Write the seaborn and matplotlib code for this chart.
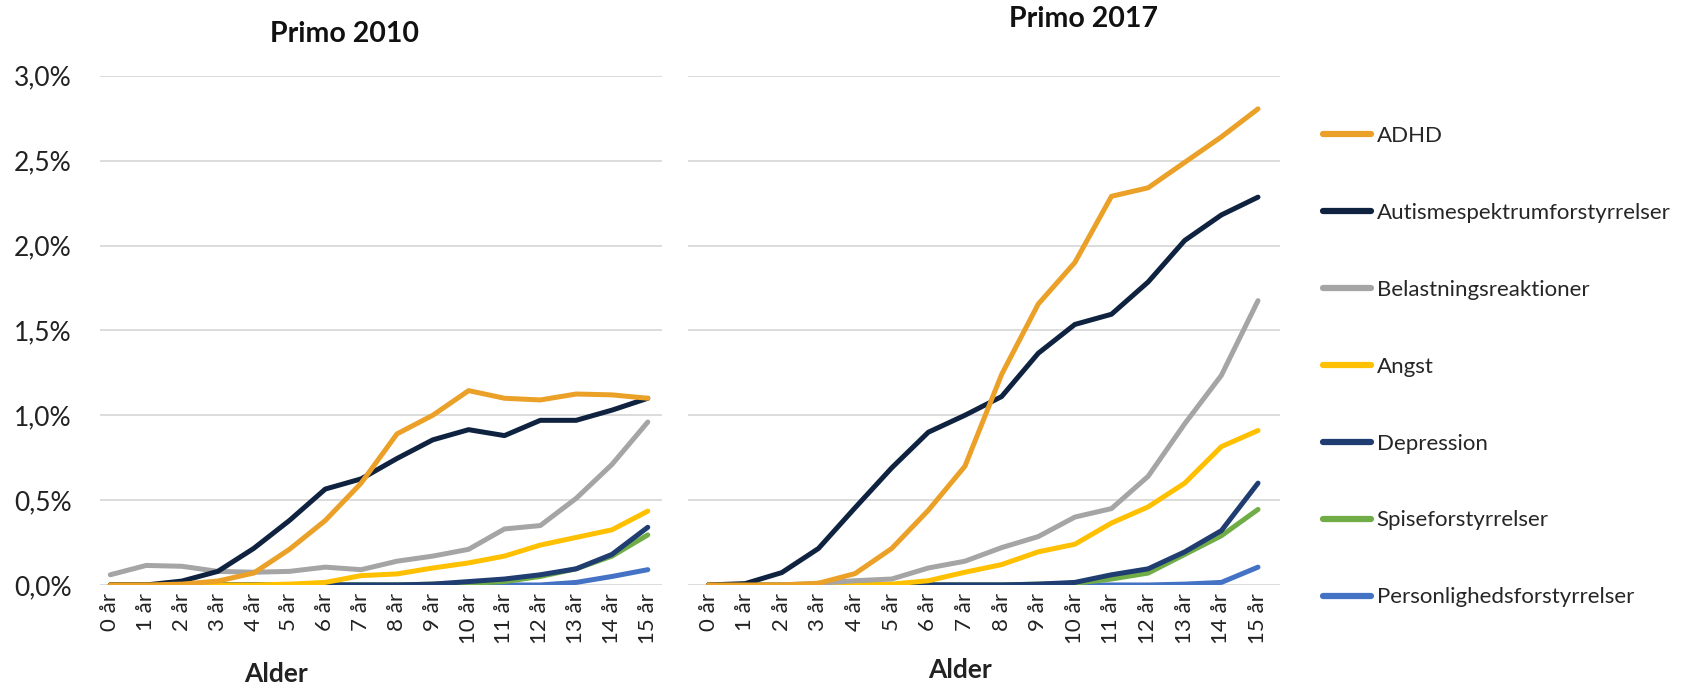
import pandas as pd
import numpy as np
import matplotlib.pyplot as plt
import seaborn as sns
from matplotlib.lines import Line2D

# Ages on the x axis
ages = list(range(16))
age_labels = [f"{a} år" for a in ages]

diagnoses = ['ADHD', 'Autismespektrumforstyrrelser', 'Belastningsreaktioner', 'Angst',
             'Depression', 'Spiseforstyrrelser', 'Personlighedsforstyrrelser']
colors = ['#EBA028', '#0F2340', '#A5A5A5', '#FFC000', '#1F3D70', '#70AD47', '#4472C4']

# Primo 2010 (percent)
adhd_2010 = [0, 0, 0.005, 0.023, 0.07, 0.21, 0.38, 0.60, 0.89, 1.0, 1.145, 1.10, 1.09, 1.125, 1.12, 1.10]
autism_2010 = [0, 0, 0.023, 0.08, 0.215, 0.38, 0.565, 0.625, 0.745, 0.855, 0.915, 0.88, 0.97, 0.97, 1.03, 1.10]
belast_2010 = [0.06, 0.115, 0.11, 0.08, 0.075, 0.08, 0.105, 0.09, 0.14, 0.17, 0.21, 0.33, 0.35, 0.51, 0.71, 0.96]
angst_2010 = [0, 0, 0, 0, 0, 0.005, 0.015, 0.055, 0.065, 0.10, 0.13, 0.17, 0.235, 0.28, 0.325, 0.435]
depr_2010 = [0, 0, 0, 0, 0, 0, 0, 0, 0, 0.005, 0.02, 0.035, 0.06, 0.095, 0.18, 0.34]
spise_2010 = [0, 0, 0, 0, 0, 0, 0, 0, 0, 0.005, 0.01, 0.02, 0.05, 0.095, 0.17, 0.295]
person_2010 = [0, 0, 0, 0, 0, 0, 0, 0, 0, 0, 0, 0, 0, 0.015, 0.05, 0.09]

# Primo 2017 (percent)
adhd_2017 = [0, 0, 0, 0.01, 0.067, 0.215, 0.44, 0.70, 1.24, 1.655, 1.90, 2.29, 2.34, 2.49, 2.64, 2.805]
autism_2017 = [0, 0.008, 0.073, 0.215, 0.455, 0.69, 0.90, 1.0, 1.11, 1.365, 1.535, 1.595, 1.785, 2.03, 2.18, 2.285]
belast_2017 = [0, 0, 0, 0.01, 0.025, 0.035, 0.10, 0.14, 0.22, 0.285, 0.40, 0.45, 0.64, 0.95, 1.235, 1.675]
angst_2017 = [0, 0, 0, 0, 0, 0.005, 0.025, 0.075, 0.12, 0.195, 0.24, 0.365, 0.46, 0.60, 0.815, 0.91]
depr_2017 = [0, 0, 0, 0, 0, 0, 0, 0, 0, 0.005, 0.015, 0.06, 0.095, 0.195, 0.32, 0.60]
spise_2017 = [0, 0, 0, 0, 0, 0, 0, 0, 0, 0.005, 0.01, 0.035, 0.07, 0.18, 0.29, 0.445]
person_2017 = [0, 0, 0, 0, 0, 0, 0, 0, 0, 0, 0, 0, 0, 0.005, 0.015, 0.105]

series_2010 = [adhd_2010, autism_2010, belast_2010, angst_2010, depr_2010, spise_2010, person_2010]
series_2017 = [adhd_2017, autism_2017, belast_2017, angst_2017, depr_2017, spise_2017, person_2017]


def long_df(series):
    rows = []
    for name, vals in zip(diagnoses, series):
        for a, v in zip(ages, vals):
            rows.append({'Alder': a, 'Andel': v, 'Diagnose': name})
    return pd.DataFrame(rows)


sns.set_style("white")
plt.rcParams['font.family'] = ['Lato', 'DejaVu Sans']

fig = plt.figure(figsize=(16.96, 6.89), dpi=100)
ax1 = fig.add_axes([0.0587, 0.151, 0.3317, 0.739])
ax2 = fig.add_axes([0.4057, 0.151, 0.349, 0.739])

palette = dict(zip(diagnoses, colors))
# draw in reverse so ADHD sits on top
order = diagnoses[::-1]

for ax, series, xl in [(ax1, series_2010, (-0.3, 15.4)), (ax2, series_2017, (-0.56, 15.6))]:
    df = long_df(series)
    for name in order:
        sub = df[df['Diagnose'] == name]
        sns.lineplot(data=sub, x='Alder', y='Andel', color=palette[name], linewidth=3.6,
                     ax=ax, legend=False, solid_capstyle='round')
    ax.set_xlim(*xl)
    ax.set_ylim(0, 3.0)
    ax.set_yticks(np.arange(0, 3.01, 0.5))
    ax.yaxis.grid(True, color='#D9D9D9', linewidth=1.3)
    ax.set_axisbelow(True)
    ax.set_xticks(ages)
    ax.set_xticklabels(age_labels, rotation=90, fontsize=16, color='#222222')
    for s in ax.spines.values():
        s.set_visible(False)
    ax.tick_params(axis='both', length=0, pad=6)
    ax.set_xlabel('')
    ax.set_ylabel('')

ax1.set_yticklabels([f"{v:.1f}%".replace('.', ',') for v in np.arange(0, 3.01, 0.5)],
                    fontsize=19, color='#222222')
ax1.tick_params(axis='y', pad=20)
ax2.set_yticklabels([])

fig.text(0.203, 0.950, 'Primo 2010', fontsize=20.5, fontweight='bold', ha='center', va='center', color='#111111')
fig.text(0.639, 0.973, 'Primo 2017', fontsize=20.5, fontweight='bold', ha='center', va='center', color='#111111')
fig.text(0.163, 0.022, 'Alder', fontsize=19, fontweight='bold', ha='center', va='center', color='#222222')
fig.text(0.566, 0.028, 'Alder', fontsize=19, fontweight='bold', ha='center', va='center', color='#222222')

handles = [Line2D([0], [0], color=c, linewidth=4.5, solid_capstyle='round') for c in colors]
fig.legend(handles, diagnoses, loc='upper left', bbox_to_anchor=(0.775, 0.83), frameon=False,
           fontsize=16, handlelength=2.15, handletextpad=0.25, labelspacing=2.56, borderaxespad=0)

plt.savefig('out.png', dpi=100)
